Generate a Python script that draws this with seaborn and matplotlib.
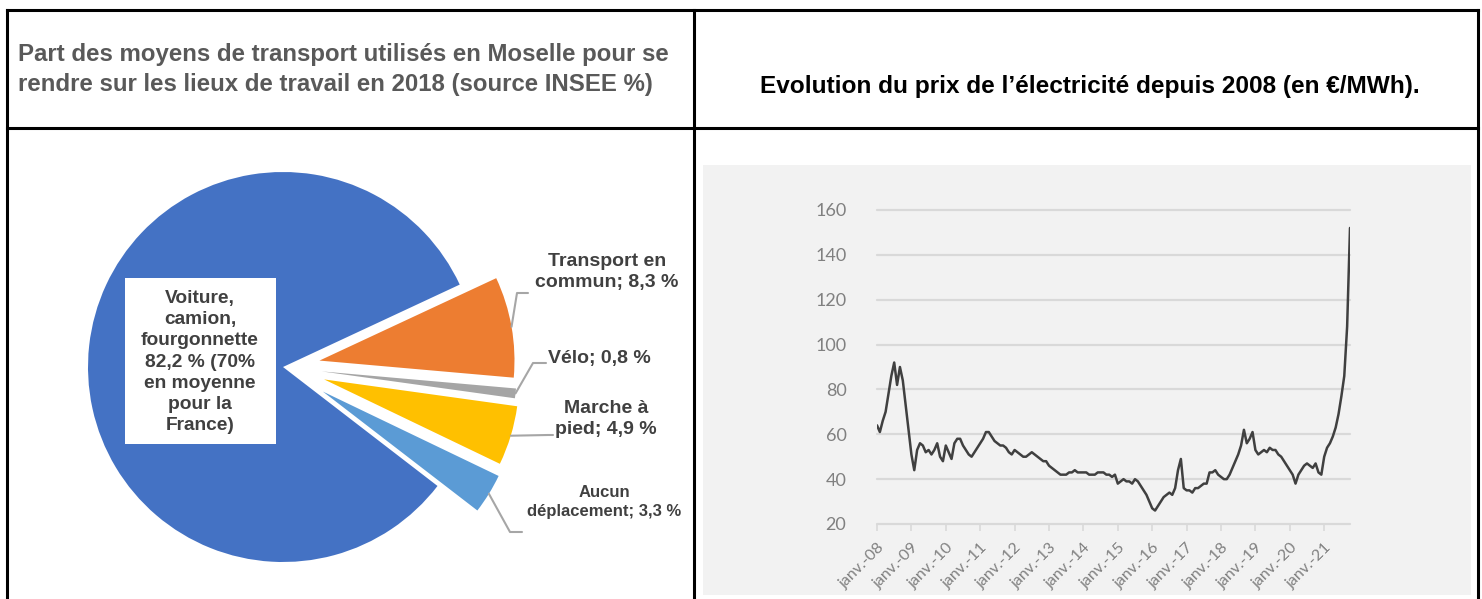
import numpy as np
import matplotlib.pyplot as plt
import seaborn as sns
from matplotlib.patches import Rectangle
from matplotlib.lines import Line2D

# --- 1. DONNÉES ---

# Camembert : ordre anti-horaire à partir de la grande part
modes = ['Voiture', 'Aucun déplacement', 'Marche à pied', 'Vélo', 'Transport en commun']
parts = [82.2, 3.3, 4.9, 0.8, 8.3]
couleurs = ['#4472C4', '#5B9BD5', '#FFC000', '#A5A5A5', '#ED7D31']
etiquettes = ['Voiture,\ncamion,\nfourgonnette\n82,2 % (70%\nen moyenne\npour la\nFrance)',
              'Aucun\ndéplacement; 3,3 %',
              'Marche à\npied; 4,9 %',
              'Vélo; 0,8 %',
              'Transport en\ncommun; 8,3 %']
eclatement = [0, 0.24, 0.22, 0.2, 0.19]

# Prix de l'électricité (€/MWh), une valeur par mois depuis janv. 2008
prix_2008 = [64, 61, 66, 70, 78, 86, 92, 82, 90, 84, 73, 62]
prix_2009 = [51, 44, 53, 56, 55, 52, 53, 51, 53, 56, 50, 48]
prix_2010 = [55, 52, 49, 56, 58, 58, 55, 53, 51, 50, 52, 54]
prix_2011 = [56, 58, 61, 61, 59, 57, 56, 55, 55, 54, 52, 51]
prix_2012 = [53, 52, 51, 50, 50, 51, 52, 51, 50, 49, 48, 48]
prix_2013 = [46, 45, 44, 43, 42, 42, 42, 43, 43, 44, 43, 43]
prix_2014 = [43, 43, 42, 42, 42, 43, 43, 43, 42, 42, 41, 42]
prix_2015 = [38, 39, 40, 39, 39, 38, 40, 39, 37, 35, 33, 30]
prix_2016 = [27, 26, 28, 30, 32, 33, 34, 33, 36, 44, 49, 36]
prix_2017 = [35, 35, 34, 36, 36, 37, 38, 38, 43, 43, 44, 42]
prix_2018 = [41, 40, 40, 42, 45, 48, 51, 55, 62, 56, 58, 61]
prix_2019 = [53, 51, 52, 53, 52, 54, 53, 53, 51, 50, 48, 46]
prix_2020 = [44, 42, 38, 42, 44, 46, 47, 46, 45, 47, 43, 42]
prix_2021 = [50, 54, 56, 59, 63, 69, 77, 86, 108, 152]
prix = (prix_2008 + prix_2009 + prix_2010 + prix_2011 + prix_2012 + prix_2013 + prix_2014
        + prix_2015 + prix_2016 + prix_2017 + prix_2018 + prix_2019 + prix_2020 + prix_2021)
mois = np.arange(len(prix))

positions_janv = [0, 12, 24, 36, 48, 60, 72, 84, 96, 108, 120, 132, 144, 156]
labels_janv = ['janv.-08', 'janv.-09', 'janv.-10', 'janv.-11', 'janv.-12', 'janv.-13', 'janv.-14',
               'janv.-15', 'janv.-16', 'janv.-17', 'janv.-18', 'janv.-19', 'janv.-20', 'janv.-21']
graduations_y = [20, 40, 60, 80, 100, 120, 140, 160]

# --- 2. FIGURE ---
sns.set_theme(style='white')
plt.rcParams['font.family'] = ['Liberation Sans', 'DejaVu Sans']

W, H = 1482, 599
fig = plt.figure(figsize=(W / 100, H / 100), dpi=100)
fig.patch.set_facecolor('white')


def fx(x):
    return x / W


def fy(y):
    return 1 - y / H


# Tableau (bordures)
for (x0, y0, x1, y1) in [(7, 10, 1478, 10), (7, 128, 1478, 128), (7, 10, 7, 599),
                         (694, 10, 694, 599), (1478, 10, 1478, 599)]:
    fig.add_artist(Line2D([fx(x0), fx(x1)], [fy(y0), fy(y1)], transform=fig.transFigure,
                          color='black', lw=2.2, solid_capstyle='projecting'))

# Titres
fig.text(fx(18), fy(55), 'Part des moyens de transport utilisés en Moselle pour se',
         ha='left', va='center', fontsize=17.3, fontweight='bold', color='#595959')
fig.text(fx(18), fy(84), 'rendre sur les lieux de travail en 2018 (source INSEE %)',
         ha='left', va='center', fontsize=17.3, fontweight='bold', color='#595959')
fig.text(fx(1090), fy(87), 'Evolution du prix de l’électricité depuis 2008 (en €/MWh).',
         ha='center', va='center', fontsize=17.6, fontweight='bold', color='black')

# --- 3. CAMEMBERT ---
cx, cy, R = 283, 367, 195
ax1 = fig.add_axes([fx(cx - R), fy(cy + R), 2 * R / W, 2 * R / H])
wedges, _ = ax1.pie(parts, colors=couleurs, startangle=25, counterclock=True,
                    explode=eclatement, wedgeprops=dict(linewidth=0))
ax1.set_xlim(-1, 1)
ax1.set_ylim(-1, 1)
ax1.axis('off')
for w in wedges:
    w.set_clip_on(False)


def p(x, y):
    return (x - cx) / R, (cy - y) / R


texte_gris = '#404040'
# cadre blanc de l'étiquette principale
bx0, by0 = p(125, 444)
bx1, by1 = p(276, 278)
ax1.add_patch(Rectangle((bx0, by0), bx1 - bx0, by1 - by0, facecolor='white',
                        edgecolor='none', zorder=3))
ax1.text(*p(200, 362), etiquettes[0], ha='center', va='center', fontsize=13.8,
         fontweight='bold', color=texte_gris, linespacing=1.33, zorder=4)

# étiquettes externes : (centre du texte, coude, fin du trait, taille)
placements = {
    4: ((607, 272), (517, 293), (528, 293), 14),
    3: ((599, 358), (533, 363), (546, 363), 14),
    2: ((606, 419), (548, 435), (553, 435), 14),
    1: ((604, 502), (510, 532), (522, 532), 12),
}
for i, (centre, coude, fin, taille) in placements.items():
    w = wedges[i]
    ang = np.deg2rad((w.theta1 + w.theta2) / 2)
    x0 = w.center[0] + w.r * np.cos(ang)
    y0 = w.center[1] + w.r * np.sin(ang)
    xs = [x0, p(*coude)[0], p(*fin)[0]]
    ys = [y0, p(*coude)[1], p(*fin)[1]]
    ax1.plot(xs, ys, color='#a6a6a6', lw=1.5, clip_on=False)
    ax1.text(*p(*centre), etiquettes[i], ha='center', va='center', fontsize=taille,
             fontweight='bold', color=texte_gris, linespacing=1.3)

# --- 4. COURBE DU PRIX ---
fig.add_artist(Rectangle((fx(703), fy(595)), (1471 - 703) / W, (595 - 165) / H,
                         transform=fig.transFigure, facecolor='#f2f2f2', edgecolor='none',
                         zorder=0))

ax2 = fig.add_axes([fx(877), fy(524), (1350 - 877) / W, (524 - 210) / H])
ax2.set_facecolor('none')
sns.lineplot(x=mois, y=prix, ax=ax2, color='#404040', lw=1.8)
ax2.set_xlim(0, len(prix) - 1)
ax2.set_ylim(20, 160)
ax2.set_yticks(graduations_y)
ax2.set_xticks(positions_janv)
ax2.set_xticklabels(labels_janv, rotation=45, ha='right', rotation_mode='anchor',
                    family=['Lato', 'DejaVu Sans'])
for lab in ax2.get_yticklabels():
    lab.set_family(['Lato', 'DejaVu Sans'])
ax2.set_xlabel('')
ax2.set_ylabel('')
ax2.yaxis.grid(True, color='#d9d9d9', lw=1.6)
ax2.xaxis.grid(False)
for gl in ax2.get_ygridlines():
    gl.set_clip_on(False)
for s in ax2.spines.values():
    s.set_visible(False)
ax2.tick_params(axis='y', length=0, pad=22, labelsize=13, labelcolor='#808080')
ax2.tick_params(axis='x', length=5, width=1.2, color='#d9d9d9', pad=7, labelsize=11.5,
                labelcolor='#808080', bottom=True)

fig.savefig('out.png', dpi=100)
